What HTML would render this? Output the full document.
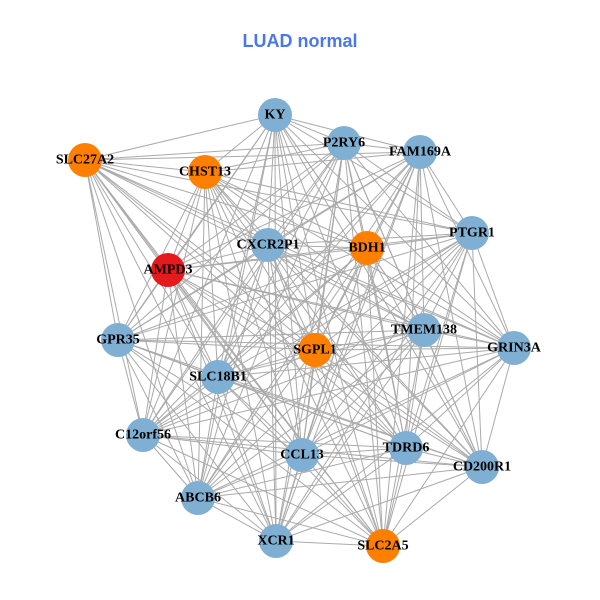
<!DOCTYPE html>
<html><head><meta charset="utf-8"><style>
html,body{margin:0;padding:0;background:#fff;}
svg{display:block;}
.l{font-family:"Liberation Serif",serif;font-weight:bold;font-size:14px;fill:#000;text-anchor:middle;dominant-baseline:central;}
</style></head><body>
<svg id="s" width="600" height="600" viewBox="0 0 600 600">
<text x="300" y="41" text-anchor="middle" dominant-baseline="central" font-family="Liberation Sans, sans-serif" font-weight="bold" font-size="18" fill="#4a78e8">LUAD normal</text>
<g id="e" stroke="#aaaaaa" stroke-width="1"></g>
<g id="n"></g>
<g>
<text class="l" x="275" y="115">KY</text>
<text class="l" x="344" y="143">P2RY6</text>
<text class="l" x="420" y="152">FAM169A</text>
<text class="l" x="85" y="160">SLC27A2</text>
<text class="l" x="205" y="172">CHST13</text>
<text class="l" x="472" y="233">PTGR1</text>
<text class="l" x="268" y="245">CXCR2P1</text>
<text class="l" x="367" y="248">BDH1</text>
<text class="l" x="168" y="270">AMPD3</text>
<text class="l" x="118" y="340">GPR35</text>
<text class="l" x="424" y="330">TMEM138</text>
<text class="l" x="514" y="348">GRIN3A</text>
<text class="l" x="315" y="350">SGPL1</text>
<text class="l" x="218" y="377">SLC18B1</text>
<text class="l" x="143" y="435">C12orf56</text>
<text class="l" x="302" y="455">CCL13</text>
<text class="l" x="406" y="448">TDRD6</text>
<text class="l" x="482" y="467">CD200R1</text>
<text class="l" x="198" y="498">ABCB6</text>
<text class="l" x="276" y="541">XCR1</text>
<text class="l" x="383" y="546">SLC2A5</text>
</g>
</svg>
<script>
var N=[[275,115,'b'],[344,143,'b'],[420,152,'b'],[85,160,'o'],[205,172,'o'],[472,233,'b'],[268,245,'b'],[367,248,'o'],[168,270,'r'],[118,340,'b'],[424,330,'b'],[514,348,'b'],[315,350,'o'],[218,377,'b'],[143,435,'b'],[302,455,'b'],[406,448,'b'],[482,467,'b'],[198,498,'b'],[276,541,'b'],[383,546,'o']];
var C={b:'#7fafd3',o:'#ff7f00',r:'#e41a1c'};
var ns='http://www.w3.org/2000/svg',e=document.getElementById('e'),g=document.getElementById('n');
for(var i=0;i<N.length;i++)for(var j=i+1;j<N.length;j++){var l=document.createElementNS(ns,'line');l.setAttribute('x1',N[i][0]);l.setAttribute('y1',N[i][1]);l.setAttribute('x2',N[j][0]);l.setAttribute('y2',N[j][1]);e.appendChild(l);}
N.forEach(function(p){var c=document.createElementNS(ns,'circle');c.setAttribute('cx',p[0]);c.setAttribute('cy',p[1]);c.setAttribute('r',17);c.setAttribute('fill',C[p[2]]);g.appendChild(c);});
</script>
</body></html>
